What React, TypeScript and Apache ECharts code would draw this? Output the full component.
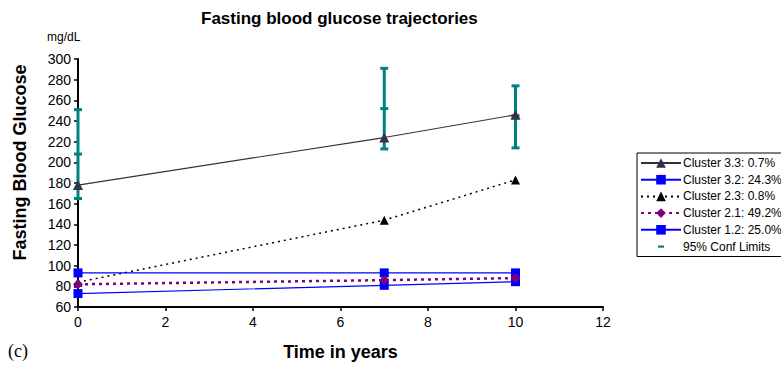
import React, { useEffect, useRef } from "react";
import * as echarts from "echarts";

const years = [0, 7, 10];
const cluster33 = [178, 224, 246];
const cluster32 = [93, 93, 93];
const cluster23 = [84, 144, 183];
const cluster21 = [82, 86, 88];
const cluster12 = [73, 81, 84.5];
const ciLow = [165, 213, 214];
const ciMid = [208, 252, 245];
const ciHigh = [251, 291, 274];

const names = [
  "Cluster 3.3: 0.7%",
  "Cluster 3.2: 24.3%",
  "Cluster 2.3: 0.8%",
  "Cluster 2.1: 49.2%",
  "Cluster 1.2: 25.0%",
  "95% Conf Limits",
];

const pairs = (ys: number[]) => years.map((x, i) => [x, ys[i]]);

export default function App() {
  const ref = useRef<HTMLDivElement>(null);
  useEffect(() => {
    if (!ref.current) return;
    const chart = echarts.init(ref.current, null, { renderer: "svg" });
    const font = "Arial, 'Liberation Sans', sans-serif";
    const teal = "#008080";
    chart.setOption({
      animation: false,
      backgroundColor: "#ffffff",
      textStyle: { fontFamily: font },
      title: {
        text: "Fasting blood glucose trajectories",
        left: 196,
        top: 5,
        textStyle: { fontSize: 17, fontWeight: "bold", color: "#000", fontFamily: font },
      },
      grid: { left: 78, right: 178, top: 59, bottom: 60, containLabel: false },
      legend: {
        orient: "vertical",
        left: 637,
        top: 153,
        padding: [4, 30, 4, 3],
        borderColor: "#000",
        borderWidth: 1,
        borderRadius: 0,
        itemWidth: 40,
        itemHeight: 12,
        itemGap: 4.7,
        textStyle: { fontSize: 12, color: "#000", fontFamily: font, padding: [0, 0, 0, -3] },
        data: [
          names[0],
          names[1],
          names[2],
          names[3],
          names[4],
          { name: names[5], icon: "path://M0,0M40,12M17,5h6v2.2h-6z" },
        ],
      },
      xAxis: {
        type: "value",
        min: 0,
        max: 12,
        interval: 2,
        name: "Time in years",
        nameLocation: "middle",
        nameGap: 36,
        nameTextStyle: { fontSize: 18, fontWeight: "bold", color: "#000", fontFamily: font },
        axisLine: { onZero: false, lineStyle: { color: "#000", width: 2 } },
        axisTick: { length: 4, lineStyle: { color: "#000", width: 1.5 } },
        axisLabel: { fontSize: 14, color: "#000", margin: 8, fontFamily: font },
        splitLine: { show: false },
      },
      yAxis: {
        type: "value",
        min: 60,
        max: 300,
        interval: 20,
        axisLine: { show: true, lineStyle: { color: "#000", width: 2 } },
        axisTick: { show: true, length: 4, lineStyle: { color: "#000", width: 1.5 } },
        axisLabel: { fontSize: 14, color: "#000", margin: 7, fontFamily: font },
        splitLine: { show: false },
      },
      graphic: [
        {
          type: "text",
          left: 47,
          top: 31,
          style: { text: "mg/dL", fontSize: 12, fill: "#000", fontFamily: font },
        },
        {
          type: "text",
          x: 19.5,
          y: 162.5,
          rotation: Math.PI / 2,
          style: {
            text: "Fasting Blood Glucose",
            fontSize: 18,
            fontWeight: "bold",
            fill: "#000",
            fontFamily: font,
            textAlign: "center",
            textVerticalAlign: "middle",
          },
        },
        {
          type: "text",
          left: 8,
          top: 342,
          style: { text: "(c)", fontSize: 18, fill: "#000", fontFamily: "'Liberation Serif', 'Times New Roman', serif" },
        },
      ],
      series: [
        {
          name: names[5],
          type: "custom",
          z: 1,
          itemStyle: { color: teal },
          data: years.map((x, i) => [x, ciLow[i], ciMid[i], ciHigh[i]]),
          encode: { x: 0, y: [1, 2, 3] },
          renderItem: (params: any, api: any) => {
            const x = api.value(0);
            const lo = api.coord([x, api.value(1)]);
            const mid = api.coord([x, api.value(2)]);
            const hi = api.coord([x, api.value(3)]);
            const w = 4;
            const st = { stroke: teal, lineWidth: 3 };
            return {
              type: "group",
              children: [
                { type: "line", shape: { x1: lo[0], y1: lo[1], x2: hi[0], y2: hi[1] }, style: st },
                { type: "line", shape: { x1: lo[0] - w, y1: lo[1], x2: lo[0] + w, y2: lo[1] }, style: st },
                { type: "line", shape: { x1: mid[0] - w, y1: mid[1], x2: mid[0] + w, y2: mid[1] }, style: st },
                { type: "line", shape: { x1: hi[0] - w, y1: hi[1], x2: hi[0] + w, y2: hi[1] }, style: st },
              ],
            };
          },
        },
        {
          name: names[4],
          type: "line",
          z: 3,
          data: pairs(cluster12),
          symbol: "rect",
          symbolSize: 9,
          lineStyle: { color: "#0000ff", width: 1.2 },
          itemStyle: { color: "#0000ff" },
        },
        {
          name: names[3],
          type: "line",
          z: 4,
          data: pairs(cluster21),
          symbol: "diamond",
          symbolSize: 10,
          lineStyle: { color: "#800080", width: 2.5, type: [3, 4] },
          itemStyle: { color: "#800080" },
        },
        {
          name: names[2],
          type: "line",
          z: 3,
          data: pairs(cluster23),
          symbol: "triangle",
          symbolSize: 9,
          lineStyle: { color: "#000", width: 1.5, type: [2, 4] },
          itemStyle: { color: "#000" },
        },
        {
          name: names[1],
          type: "line",
          z: 3,
          data: pairs(cluster32),
          symbol: "rect",
          symbolSize: 9,
          lineStyle: { color: "#0000ff", width: 1.2 },
          itemStyle: { color: "#0000ff" },
        },
        {
          name: names[0],
          type: "line",
          z: 5,
          data: pairs(cluster33),
          symbol: "triangle",
          symbolSize: 10,
          lineStyle: { color: "#333333", width: 1.2 },
          itemStyle: { color: "#333344" },
        },
      ],
    });
    return () => chart.dispose();
  }, []);
  return <div ref={ref} style={{ width: 781, height: 367, position: "absolute", left: 0, top: 0 }} />;
}
